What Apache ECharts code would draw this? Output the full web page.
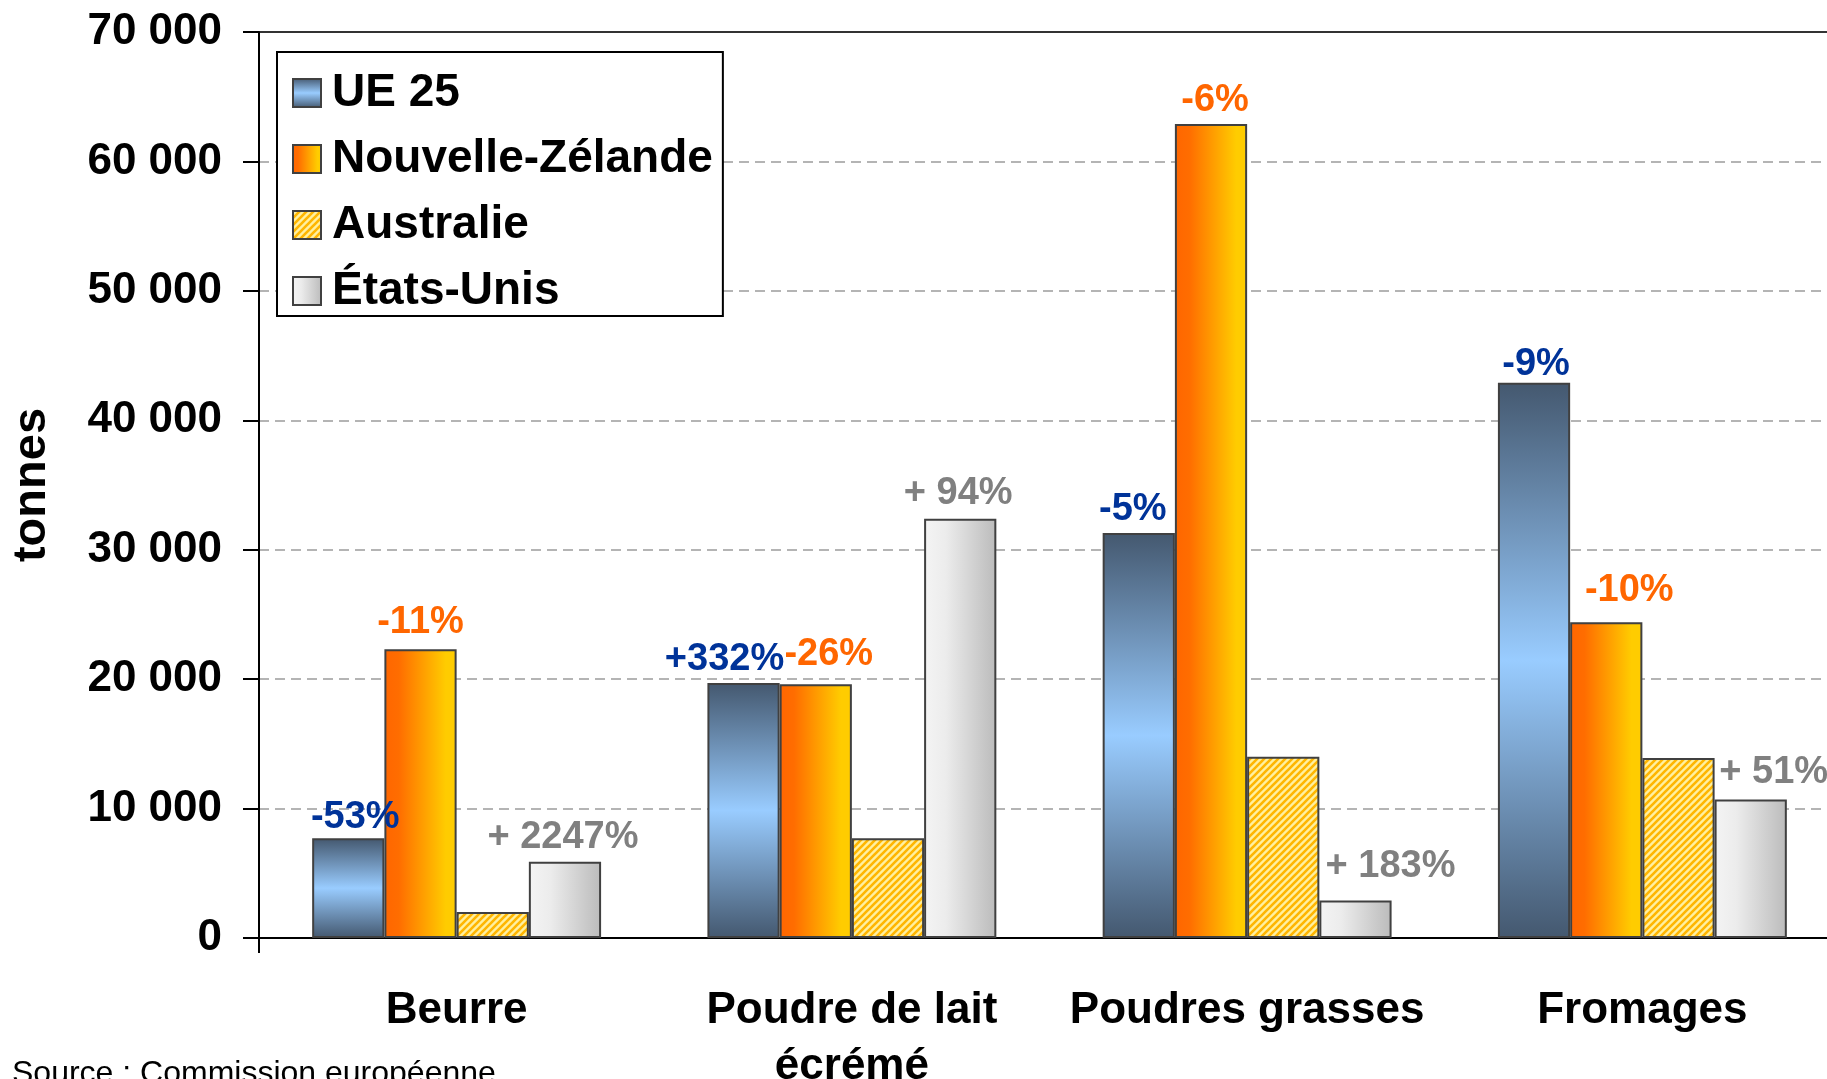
<!DOCTYPE html>
<html>
<head>
<meta charset="utf-8">
<title>Exportations de produits laitiers</title>
<script src="https://cdn.jsdelivr.net/npm/echarts@6/dist/echarts.min.js"></script>
<style>
html, body { margin: 0; padding: 0; background: #fff; overflow: hidden; }
#chart { width: 1827px; height: 1079px; }
</style>
</head>
<body>
<div id="chart"></div>
<script>
// données
var categories = ['Beurre', 'Poudre de lait\nécrémé', 'Poudres grasses', 'Fromages'];
var seriesNames = ['UE 25', 'Nouvelle-Zélande', 'Australie', 'États-Unis'];
var ueValues = [7700, 19700, 31300, 42900];
var nzValues = [22300, 19600, 62900, 24400];
var auValues = [2000, 7700, 14000, 13900];
var usValues = [5900, 32400, 2900, 10700];
var ueChanges = ['-53%', '+332%', '-5%', '-9%'];
var nzChanges = ['-11%', '-26%', '-6%', '-10%'];
var usChanges = ['+ 2247%', '+ 94%', '+ 183%', '+ 51%'];

// décalage des étiquettes [dx, dy]
var ueOffsets = [[7, -2], [-19, -5], [-6, -4], [2, 1]];
var nzOffsets = [[0, -8], [13, -11], [4, -4], [23, -13]];
var usOffsets = [[-2, -5], [-2, -6], [35, -15], [23, -8]];

var FONT = '"Liberation Sans", Arial, sans-serif';

function fmtNum(v) {
	return String(v).replace(/\B(?=(\d{3})+(?!\d))/g, ' ');
}

// motif hachuré pour l'Australie
function stripeTile() {
	var c = document.createElement('canvas');
	c.width = 7;
	c.height = 7;
	var g = c.getContext('2d');
	g.fillStyle = '#FFF0A0';
	g.fillRect(0, 0, 7, 7);
	g.strokeStyle = '#FFB600';
	g.lineWidth = 2.6;
	g.beginPath();
	g.moveTo(-1, 8); g.lineTo(8, -1);
	g.moveTo(-1, 1); g.lineTo(1, -1);
	g.moveTo(6, 8); g.lineTo(8, 6);
	g.stroke();
	return c;
}

function buildData(values, offsets) {
	return values.map(function(v, i) {
		var item = { value: v };
		if (offsets) {
			item.label = { offset: offsets[i] };
		}
		return item;
	});
}

function barLabel(texts, color) {
	return {
		show: true,
		position: 'top',
		distance: 0,
		color: color,
		fontSize: 38,
		fontWeight: 'bold',
		fontFamily: FONT,
		formatter: function(p) {
			return texts[p.dataIndex];
		}
	};
}

var chart = echarts.init(document.getElementById('chart'));

var border = { borderColor: '#404040', borderWidth: 2 };

var option = {
	backgroundColor: '#fff',
	animation: false,
	textStyle: { fontFamily: FONT },
	// la zone de tracé dépasse à droite, comme dans l'original
	grid: {
		left: 259,
		top: 32,
		width: 1581,
		height: 906,
		outerBoundsMode: 'none',
		show: true,
		borderColor: '#333',
		borderWidth: 2,
		backgroundColor: 'transparent'
	},
	legend: {
		orient: 'vertical',
		left: 277,
		top: 52,
		padding: [18, 10, 2, 15],
		itemWidth: 28,
		itemHeight: 28,
		itemGap: 20,
		icon: 'rect',
		backgroundColor: '#fff',
		borderColor: '#000',
		borderWidth: 2,
		borderRadius: 0,
		data: seriesNames,
		textStyle: {
			fontSize: 46,
			fontWeight: 'bold',
			color: '#000',
			fontFamily: FONT,
			padding: [0, 0, 0, 6]
		}
	},
	xAxis: {
		type: 'category',
		data: categories,
		axisLine: { lineStyle: { color: '#000', width: 2 } },
		axisTick: {
			show: true,
			length: 15,
			interval: function(i) { return i === 0; },
			lineStyle: { color: '#000', width: 2 }
		},
		axisLabel: {
			interval: 0,
			margin: 45,
			fontSize: 44,
			fontWeight: 'bold',
			color: '#000',
			lineHeight: 56,
			fontFamily: FONT
		}
	},
	yAxis: {
		type: 'value',
		min: 0,
		max: 70000,
		interval: 10000,
		name: 'tonnes',
		nameLocation: 'middle',
		nameGap: 203,
		nameTextStyle: { fontSize: 47, fontWeight: 'bold', color: '#000', fontFamily: FONT },
		axisLine: { show: true, lineStyle: { color: '#000', width: 2 } },
		axisTick: { show: true, length: 16, lineStyle: { color: '#000', width: 2 } },
		axisLabel: {
			margin: 37,
			fontSize: 44,
			fontWeight: 'bold',
			color: '#000',
			fontFamily: FONT,
			formatter: fmtNum
		},
		splitLine: {
			show: true,
			showMinLine: false,
			showMaxLine: false,
			lineStyle: { color: '#B4B4B4', width: 2, type: [10, 6] }
		}
	},
	series: [{
		name: seriesNames[0],
		type: 'bar',
		barGap: '0%',
		barCategoryGap: '26.9%',
		data: buildData(ueValues, ueOffsets),
		itemStyle: Object.assign({
			color: new echarts.graphic.LinearGradient(0, 0, 0, 1, [
				{ offset: 0, color: '#44586F' },
				{ offset: 0.5, color: '#99CCFF' },
				{ offset: 1, color: '#44586F' }
			])
		}, border),
		label: barLabel(ueChanges, '#003399')
	}, {
		name: seriesNames[1],
		type: 'bar',
		data: buildData(nzValues, nzOffsets),
		itemStyle: Object.assign({
			color: new echarts.graphic.LinearGradient(0, 0, 1, 0, [
				{ offset: 0, color: '#FF6600' },
				{ offset: 0.2, color: '#FF6D00' },
				{ offset: 0.85, color: '#FFCC00' },
				{ offset: 1, color: '#FFCC00' }
			])
		}, border),
		label: barLabel(nzChanges, '#FF6600')
	}, {
		name: seriesNames[2],
		type: 'bar',
		data: buildData(auValues),
		itemStyle: Object.assign({
			color: { image: stripeTile(), repeat: 'repeat' }
		}, border)
	}, {
		name: seriesNames[3],
		type: 'bar',
		data: buildData(usValues, usOffsets),
		itemStyle: Object.assign({
			color: new echarts.graphic.LinearGradient(0, 0, 1, 0, [
				{ offset: 0, color: '#F4F4F4' },
				{ offset: 0.3, color: '#ECECEC' },
				{ offset: 1, color: '#BBBBBB' }
			])
		}, border),
		label: barLabel(usChanges, '#808080')
	}],
	graphic: [{
		type: 'text',
		left: 12,
		top: 1058,
		style: {
			text: 'Source : Commission européenne',
			fontSize: 32,
			fontFamily: FONT,
			fill: '#000'
		}
	}]
};

chart.setOption(option);
</script>
</body>
</html>
